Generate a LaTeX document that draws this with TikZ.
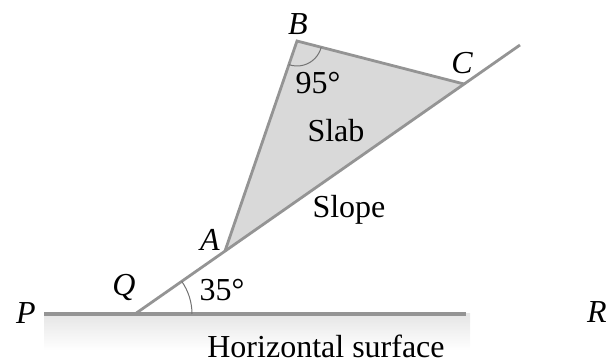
\documentclass[tikz,border=0pt]{standalone}
\usepackage{fontspec}
\setmainfont{Liberation Serif}
\begin{document}
\begin{tikzpicture}[x=0.5pt,y=-0.5pt,
  edge/.style={draw=black!42, line width=1.4pt},
  anglearc/.style={draw=black!55, line width=0.5pt},
  lbl/.style={font=\fontsize{16}{18}\selectfont\itshape, inner sep=0pt},
  txt/.style={font=\fontsize{16}{18}\selectfont, inner sep=0pt}]
\useasboundingbox (0,0) rectangle (616,363);
% ground shading
\shade[top color=black!10, bottom color=white] (44,314) rectangle (470,350);
\coordinate (Pl) at (44,314);
\coordinate (Rl) at (466,314);
\coordinate (Q) at (135,314);
\coordinate (E) at (520,45);
\coordinate (A) at (225,251);
\coordinate (B) at (297,41);
\coordinate (C) at (464,84);
% slab
\fill[black!15] (A) -- (B) -- (C) -- cycle;
\draw[edge, line cap=round] (A) -- (B) -- (C);
% slope and horizontal
\draw[edge] (Q) -- (E);
\draw[edge, line width=1.6pt] (Pl) -- (Rl);
% angle arcs
\draw[anglearc] (Q) ++(57,0) arc[start angle=0, end angle=-35, radius=57];
\draw[anglearc] (B) ++(14.4:25) arc[start angle=14.4, end angle=109, radius=25];
% labels
\node[lbl] (lP) at (26,313) {P};
\node[lbl] (lR) at (597,312) {R};
\node[lbl] (lQ) at (124,288) {Q};
\node[lbl] (lA) at (210,240) {A};
\node[lbl] (lB) at (298,24) {B};
\node[lbl] (lC) at (462,63) {C};
\node[txt] (t95) at (318,83) {95°};
\node[txt] (tslab) at (336,131) {Slab};
\node[txt] (tslope) at (349,210) {Slope};
\node[txt] (t35) at (222,290) {35°};
\node[txt] (th) at (326,346) {Horizontal surface};
\end{tikzpicture}
\end{document}
